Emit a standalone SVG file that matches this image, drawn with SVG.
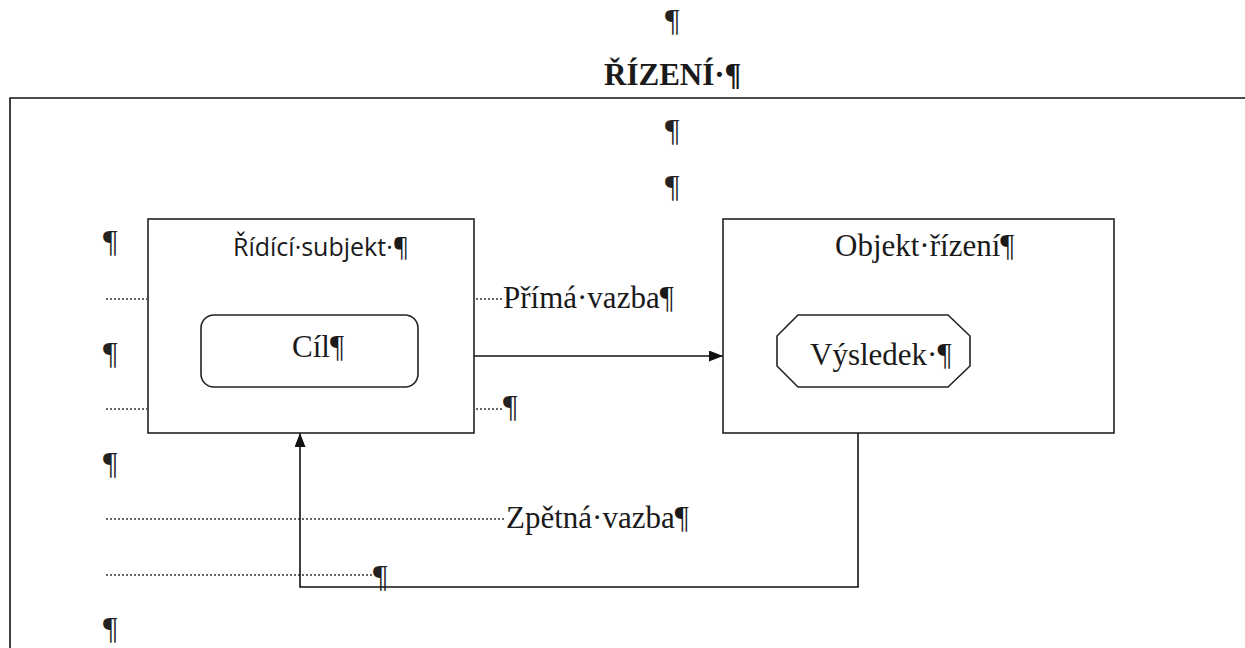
<svg xmlns="http://www.w3.org/2000/svg" width="1245" height="648" viewBox="0 0 1245 648">
  <style>
    .serif { font-family: "Liberation Serif", "Times New Roman", serif; font-size: 31px; fill: #1a1a1a; }
    .sans { font-family: "Open Sans", "Noto Sans", sans-serif; font-size: 25px; fill: #1a1a1a; }
    .box { fill: #ffffff; stroke: #222; stroke-width: 1.6; }
    .line { fill: none; stroke: #111; stroke-width: 1.6; }
    .dot { fill: none; stroke: #333; stroke-width: 1.4; stroke-dasharray: 2 2; }
    .pil { font-family: "Liberation Serif", "Times New Roman", serif; font-size: 32px; fill: #222; }
  </style>
  <defs>
    <marker id="arrow" viewBox="0 0 14 11" refX="14" refY="5.5" markerWidth="14" markerHeight="11" markerUnits="userSpaceOnUse" orient="auto">
      <path d="M0,0 L14,5.5 L0,11 Z" fill="#111"/>
    </marker>
  </defs>
  <rect width="1245" height="648" fill="#ffffff"/>

  <!-- page text -->
  <g id="page-text">
    <text class="pil" x="665" y="31">¶</text>
    <text class="serif" x="604" y="85" font-weight="bold" font-size="32">ŘÍZENÍ·¶</text>
    <text class="pil" x="665" y="141">¶</text>
    <text class="pil" x="665" y="197">¶</text>
    <text class="pil" x="103" y="252">¶</text>
    <text class="pil" x="103" y="364">¶</text>
    <text class="pil" x="103" y="474">¶</text>
    <text class="pil" x="103" y="639">¶</text>
  </g>

  <!-- frame -->
  <g id="frame">
    <path class="line" d="M10,648 L10,98 L1245,98" stroke="#333" stroke-width="1.8"/>
  </g>

  <!-- dotted leader lines -->
  <g id="leaders">
    <line class="dot" x1="106" y1="299" x2="147" y2="299"/>
    <line class="dot" x1="106" y1="409" x2="147" y2="409"/>
    <line class="dot" x1="476" y1="299" x2="502" y2="299"/>
    <line class="dot" x1="476" y1="409" x2="503" y2="409"/>
    <line class="dot" x1="106" y1="519" x2="505" y2="519"/>
    <line class="dot" x1="106" y1="575" x2="373" y2="575"/>
  </g>

  <!-- connectors -->
  <g id="connectors">
    <line class="line" x1="474" y1="356" x2="723" y2="356" marker-end="url(#arrow)"/>
    <path class="line" d="M858,433 L858,587 L300,587 L300,433" marker-end="url(#arrow)"/>
  </g>

  <!-- labels on connectors -->
  <g id="labels">
    <text class="serif" x="503" y="308">Přímá·vazba¶</text>
    <text class="pil" x="503" y="417">¶</text>
    <text class="serif" x="506" y="528">Zpětná·vazba¶</text>
    <text class="pil" x="373" y="587">¶</text>
  </g>

  <!-- nodes -->
  <g id="ridici-subjekt">
    <rect class="box" x="148" y="219" width="326" height="214"/>
    <text class="sans" x="233" y="256">Řídící·subjekt·¶</text>
  </g>
  <g id="cil">
    <rect class="box" x="201" y="315" width="217" height="72" rx="13" ry="13"/>
    <text class="serif" x="292" y="357">Cíl¶</text>
  </g>
  <g id="objekt-rizeni">
    <rect class="box" x="723" y="219" width="391" height="214"/>
    <text class="serif" x="835" y="256">Objekt·řízení¶</text>
  </g>
  <g id="vysledek">
    <polygon class="box" points="798,315 948,315 970,336 970,366 948,387 798,387 777,366 777,336"/>
    <text class="serif" x="810" y="365">Výsledek·¶</text>
  </g>
</svg>
